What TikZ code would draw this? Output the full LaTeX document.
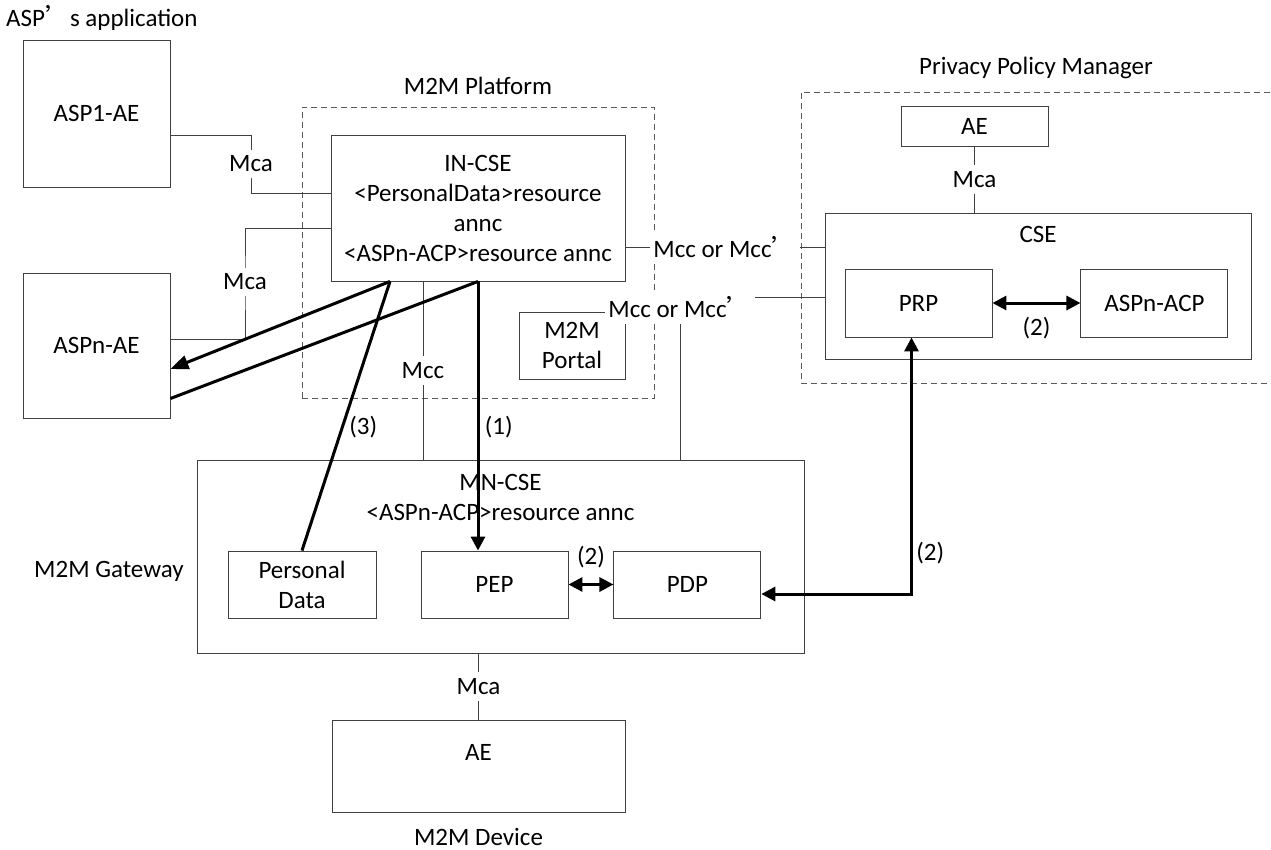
\documentclass[tikz,border=0pt]{standalone}
\usepackage{fontspec}
\setmainfont{Carlito}
\newfontfamily\cjk{Noto Sans CJK SC}
\newcommand{\cjkq}{{\cjk ’}}
\usetikzlibrary{arrows.meta, positioning}

\begin{document}
\begin{tikzpicture}[
        x=1pt, y=-1pt,
        font=\fontsize{25}{30}\selectfont,
        >={Triangle[length=14pt, width=14pt]},
        box/.style={draw=black!75, line width=0.9pt, inner sep=0pt, align=center},
        group/.style={draw=black!65, line width=0.9pt, dash pattern=on 6pt off 4pt},
        link/.style={draw=black!75, line width=0.9pt},
        iface/.style={fill=white, inner xsep=3pt, inner ysep=6pt},
        flow/.style={line width=3pt},
        toptext/.style={anchor=north, inner sep=0pt, align=center}
    ]
    \useasboundingbox (0,0) rectangle (1271,850);

    % groups and their names
    \node[group, minimum width=352pt, minimum height=291pt] (plat) at (478,252.5) {};
    \node[above=12pt of plat.north, inner sep=0pt] (platname) {M2M Platform};
    \draw[group] (1280,92) -| (801,383) -- (1280,383);
    \node[anchor=base, inner sep=0pt] (ppmname) at (1036,75) {Privacy Policy Manager};
    \node[anchor=base west, inner sep=0pt] (aspname) at (6,27) {ASP\cjkq s application};
    \node[anchor=base west, inner sep=0pt] (gwname) at (34,577) {M2M Gateway};
    \node[anchor=base, inner sep=0pt] (devname) at (478.5,845) {M2M Device};

    % entities
    \node[box, minimum width=147pt, minimum height=147pt] (asp1) at (96.5,113.5) {ASP1-AE};
    \node[box, minimum width=147pt, minimum height=145pt] (aspn) at (96.5,345.5) {ASPn-AE};
    \node[box, minimum width=294pt, minimum height=146pt] (incse) at (478,208)
        {IN-CSE\\<PersonalData>resource\\annc\\<ASPn-ACP>resource annc};
    \node[box, minimum width=106pt, minimum height=67pt] (portal) at (572,345.5) {M2M\\Portal};
    \node[box, minimum width=147pt, minimum height=40pt] (ppmae) at (974.5,126) {AE};
    \node[box, minimum width=426pt, minimum height=146pt,
        label={[toptext, yshift=-14pt]north:CSE}] (cse) at (1038,286) {};
    \node[box, minimum width=147pt, minimum height=68pt] (prp) at (918.5,303) {PRP};
    \node[box, minimum width=147pt, minimum height=68pt, right=88pt of prp] (acp) {ASPn-ACP};
    \node[box, minimum width=607pt, minimum height=193pt,
        label={[toptext, yshift=-15pt]north:{MN-CSE\\<ASPn-ACP>resource annc}}] (mncse) at (500.5,556.5) {};
    \node[box, minimum width=148pt, minimum height=67pt] (pd) at (302,584.5) {Personal\\Data};
    \node[box, minimum width=147pt, minimum height=67pt] (pep) at (494.5,584.5) {PEP};
    \node[box, minimum width=147pt, minimum height=67pt, right=45pt of pep] (pdp) {PDP};
    \node[box, minimum width=293pt, minimum height=92pt,
        label={[toptext, yshift=-25pt]north:AE}] (devae) at (478.5,766) {};

    % reference points
    \coordinate (mcaA) at (251,164);
    \coordinate (mcaB) at (245,282);

    % interfaces
    \draw[link] ([yshift=-21.5pt]asp1.east) -| (mcaA) node[iface]{Mca} |- ([yshift=15pt]incse.west);
    \draw[link] ([yshift=-20pt]incse.west) -| (mcaB) node[iface]{Mca} |- ([yshift=6.5pt]aspn.east);
    \draw[link] ([yshift=-39pt]incse.east) -- node[iface]{Mcc or Mcc\cjkq} ([yshift=39pt]cse.west);
    \draw[link] ([xshift=179.5pt]mncse.north) |- node[iface, yshift=-10pt]{Mcc or Mcc\cjkq} ([yshift=-11pt]cse.west);
    \draw[link] ([xshift=-55pt]incse.south) -- node[iface]{Mcc} ([xshift=-55pt]incse.south |- mncse.north);
    \draw[link] (ppmae) -- node[iface]{Mca} (ppmae |- cse.north);
    \draw[link] (mncse.south -| devae.north) -- node[iface]{Mca} (devae);

    % flows
    \draw[flow, ->] (incse.south) -- node[right, pos=0.54, xshift=2pt]{(1)} (incse.south |- pep.north);
    \draw[flow] ([xshift=-88pt]incse.south) -- node[right, pos=0.54, xshift=2pt]{(3)} (pd.north);
    \draw[flow, -{Triangle[length=18pt, width=14pt]}] ([xshift=-88pt]incse.south) -- ([yshift=-23.5pt]aspn.east);
    \draw[flow] (incse.south) -- ([yshift=-53pt]aspn.east);
    \draw[flow, <->] (pep) -- node[yshift=27pt]{(2)} (pdp);
    \draw[flow, <->] (prp) -- node[yshift=-25pt]{(2)} (acp);
    \draw[flow, <->] ([xshift=-7pt]prp.south) |- node[right, pos=0.42]{(2)} ([yshift=-9.5pt]pdp.east);
\end{tikzpicture}
\end{document}
